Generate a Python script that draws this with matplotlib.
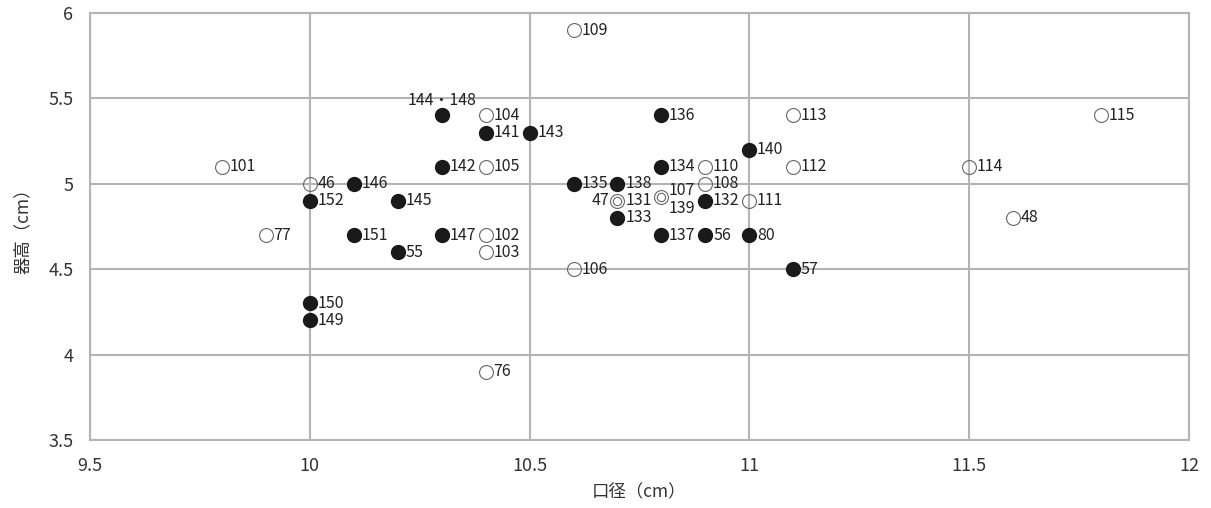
import matplotlib
matplotlib.use("Agg")
import matplotlib.pyplot as plt

plt.rcParams['font.family'] = ['Noto Sans CJK JP', 'DejaVu Sans']

# 黒丸
solid_labels = ["144・148", "141", "143", "142", "146", "152", "145", "151", "147", "55",
                "150", "149", "136", "140", "134", "135", "138", "132", "133", "137",
                "56", "80", "57"]
solid_x = [10.3, 10.4, 10.5, 10.3, 10.1, 10.0, 10.2, 10.1, 10.3, 10.2,
           10.0, 10.0, 10.8, 11.0, 10.8, 10.6, 10.7, 10.9, 10.7, 10.8,
           10.9, 11.0, 11.1]
solid_y = [5.4, 5.3, 5.3, 5.1, 5.0, 4.9, 4.9, 4.7, 4.7, 4.6,
           4.3, 4.2, 5.4, 5.2, 5.1, 5.0, 5.0, 4.9, 4.8, 4.7,
           4.7, 4.7, 4.5]

# 白丸
open_labels = ["109", "104", "113", "115", "101", "105", "110", "112", "114", "46",
               "108", "111", "48", "77", "102", "103", "106", "76"]
open_x = [10.6, 10.4, 11.1, 11.8, 9.8, 10.4, 10.9, 11.1, 11.5, 10.0,
          10.9, 11.0, 11.6, 9.9, 10.4, 10.4, 10.6, 10.4]
open_y = [5.9, 5.4, 5.4, 5.4, 5.1, 5.1, 5.1, 5.1, 5.1, 5.0,
          5.0, 4.9, 4.8, 4.7, 4.7, 4.6, 4.5, 3.9]

# 二重丸
double_labels = ["47", "107"]
double_x = [10.7, 10.8]
double_y = [4.9, 4.92]

fig = plt.figure(figsize=(12.11, 5.08), dpi=100)
ax = fig.add_axes([0.0743, 0.1339, 0.9075, 0.8405])

grid_c = "#b4b4b4"
ax.set_xlim(9.5, 12)
ax.set_ylim(3.5, 6)
ax.set_xticks([9.5, 10, 10.5, 11, 11.5, 12])
ax.set_xticklabels(["9.5", "10", "10.5", "11", "11.5", "12"])
ax.set_yticks([3.5, 4, 4.5, 5, 5.5, 6])
ax.set_yticklabels(["3.5", "4", "4.5", "5", "5.5", "6"])
ax.grid(True, color=grid_c, linewidth=1.5)
ax.set_axisbelow(True)
for s in ax.spines.values():
    s.set_color(grid_c)
    s.set_linewidth(1.5)
ax.tick_params(length=0, labelsize=13, colors="#333333")
ax.tick_params(axis="x", pad=12)
ax.tick_params(axis="y", pad=12)
ax.set_xlabel("口径（cm）", fontsize=12.5, color="#333333", labelpad=6)
ax.set_ylabel("器高（cm）", fontsize=12.5, color="#333333", labelpad=12)

ax.plot(solid_x, solid_y, "o", ms=10, color="#1a1a1a", linestyle="none", zorder=3)
ax.plot(open_x, open_y, "o", ms=10, mfc="none", mec="#666666", mew=0.8,
        linestyle="none", zorder=3)
ax.plot(double_x, double_y, "o", ms=10, mfc="none", mec="#666666", mew=0.8,
        linestyle="none", zorder=3)
ax.plot(double_x, double_y, "o", ms=6, mfc="none", mec="#666666", mew=0.8,
        linestyle="none", zorder=4)

lab_kw = dict(fontsize=11.5, color="#222222", va="center", textcoords="offset points")

for t, x, y in zip(solid_labels, solid_x, solid_y):
    if t == "144・148":
        ax.annotate(t, (x, y), xytext=(0, 11), ha="center", **lab_kw)
    else:
        ax.annotate(t, (x, y), xytext=(5.5, 0), ha="left", **lab_kw)

for t, x, y in zip(open_labels, open_x, open_y):
    ax.annotate(t, (x, y), xytext=(5.5, 0), ha="left", **lab_kw)

# 二重丸のラベル
ax.annotate("47", (double_x[0], double_y[0]), xytext=(-6, 0), ha="right", **lab_kw)
ax.annotate("131", (double_x[0], double_y[0]), xytext=(5.5, 0), ha="left", **lab_kw)
ax.annotate("107", (double_x[1], double_y[1]), xytext=(5.5, 5), ha="left", **lab_kw)
ax.annotate("139", (double_x[1], double_y[1]), xytext=(5.5, -8), ha="left", **lab_kw)

fig.savefig("out.png", dpi=100)
